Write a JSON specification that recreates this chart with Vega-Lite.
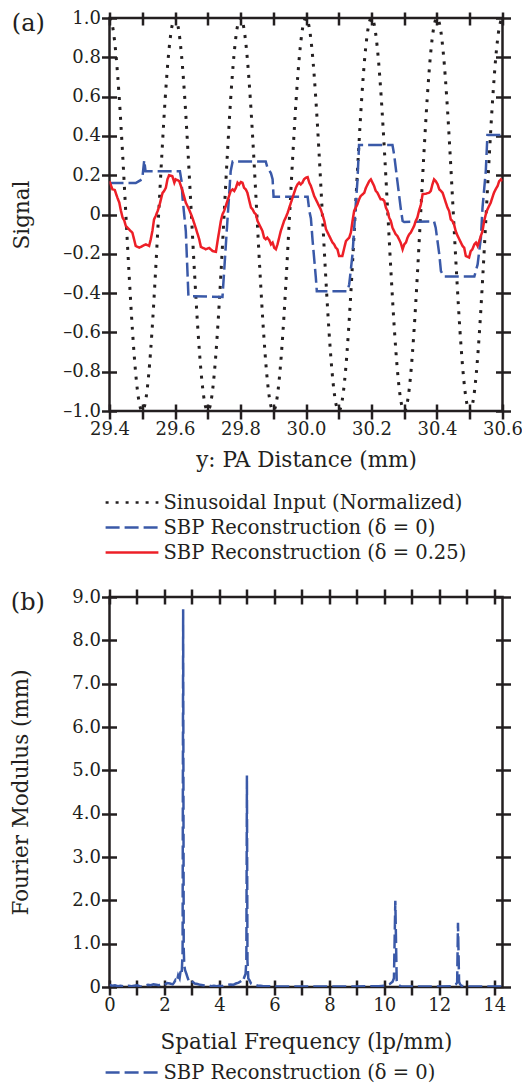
{
"$schema":"https://vega.github.io/schema/vega-lite/v6.json",
"padding":{"left":9.5,"top":7,"right":0,"bottom":0},
"spacing":22,
"config":{
 "font":"DejaVu Serif",
 "view":{"stroke":"#231f20","strokeWidth":2.5},
 "axis":{"labelFont":"DejaVu Serif","labelFontSize":18,"labelColor":"#231f20","titleFont":"DejaVu Serif","titleFontSize":21.5,"titleFontWeight":"normal","titleColor":"#231f20","tickColor":"#231f20","tickWidth":2.5,"domain":false,"grid":false,"labelFlush":false,"labelOverlap":false},
 "legend":{"labelFont":"DejaVu Serif","labelFontSize":19.5,"labelColor":"#231f20","labelLimit":500}
},
"datasets":{
"sinus":[
{"x":29.4,"v":1},{"x":29.41,"v":0.9511},{"x":29.42,"v":0.809},{"x":29.43,"v":0.5878},{"x":29.44,"v":0.309},{"x":29.45,"v":0},{"x":29.46,"v":-0.309},{"x":29.47,"v":-0.5878},{"x":29.48,"v":-0.809},{"x":29.49,"v":-0.9511},
{"x":29.5,"v":-1},{"x":29.51,"v":-0.9511},{"x":29.52,"v":-0.809},{"x":29.53,"v":-0.5878},{"x":29.54,"v":-0.309},{"x":29.55,"v":0},{"x":29.56,"v":0.309},{"x":29.57,"v":0.5878},{"x":29.58,"v":0.809},{"x":29.59,"v":0.9511},
{"x":29.6,"v":1},{"x":29.61,"v":0.9511},{"x":29.62,"v":0.809},{"x":29.63,"v":0.5878},{"x":29.64,"v":0.309},{"x":29.65,"v":0},{"x":29.66,"v":-0.309},{"x":29.67,"v":-0.5878},{"x":29.68,"v":-0.809},{"x":29.69,"v":-0.9511},
{"x":29.7,"v":-1},{"x":29.71,"v":-0.9511},{"x":29.72,"v":-0.809},{"x":29.73,"v":-0.5878},{"x":29.74,"v":-0.309},{"x":29.75,"v":0},{"x":29.76,"v":0.309},{"x":29.77,"v":0.5878},{"x":29.78,"v":0.809},{"x":29.79,"v":0.9511},
{"x":29.8,"v":1},{"x":29.81,"v":0.9511},{"x":29.82,"v":0.809},{"x":29.83,"v":0.5878},{"x":29.84,"v":0.309},{"x":29.85,"v":0},{"x":29.86,"v":-0.309},{"x":29.87,"v":-0.5878},{"x":29.88,"v":-0.809},{"x":29.89,"v":-0.9511},
{"x":29.9,"v":-1},{"x":29.91,"v":-0.9511},{"x":29.92,"v":-0.809},{"x":29.93,"v":-0.5878},{"x":29.94,"v":-0.309},{"x":29.95,"v":0},{"x":29.96,"v":0.309},{"x":29.97,"v":0.5878},{"x":29.98,"v":0.809},{"x":29.99,"v":0.9511},
{"x":30.0,"v":1},{"x":30.01,"v":0.9511},{"x":30.02,"v":0.809},{"x":30.03,"v":0.5878},{"x":30.04,"v":0.309},{"x":30.05,"v":0},{"x":30.06,"v":-0.309},{"x":30.07,"v":-0.5878},{"x":30.08,"v":-0.809},{"x":30.09,"v":-0.9511},
{"x":30.1,"v":-1},{"x":30.11,"v":-0.9511},{"x":30.12,"v":-0.809},{"x":30.13,"v":-0.5878},{"x":30.14,"v":-0.309},{"x":30.15,"v":0},{"x":30.16,"v":0.309},{"x":30.17,"v":0.5878},{"x":30.18,"v":0.809},{"x":30.19,"v":0.9511},
{"x":30.2,"v":1},{"x":30.21,"v":0.9511},{"x":30.22,"v":0.809},{"x":30.23,"v":0.5878},{"x":30.24,"v":0.309},{"x":30.25,"v":0},{"x":30.26,"v":-0.309},{"x":30.27,"v":-0.5878},{"x":30.28,"v":-0.809},{"x":30.29,"v":-0.9511},
{"x":30.3,"v":-1},{"x":30.31,"v":-0.9511},{"x":30.32,"v":-0.809},{"x":30.33,"v":-0.5878},{"x":30.34,"v":-0.309},{"x":30.35,"v":0},{"x":30.36,"v":0.309},{"x":30.37,"v":0.5878},{"x":30.38,"v":0.809},{"x":30.39,"v":0.9511},
{"x":30.4,"v":1},{"x":30.41,"v":0.9511},{"x":30.42,"v":0.809},{"x":30.43,"v":0.5878},{"x":30.44,"v":0.309},{"x":30.45,"v":0},{"x":30.46,"v":-0.309},{"x":30.47,"v":-0.5878},{"x":30.48,"v":-0.809},{"x":30.49,"v":-0.9511},
{"x":30.5,"v":-1},{"x":30.51,"v":-0.9511},{"x":30.52,"v":-0.809},{"x":30.53,"v":-0.5878},{"x":30.54,"v":-0.309},{"x":30.55,"v":0},{"x":30.56,"v":0.309},{"x":30.57,"v":0.5878},{"x":30.58,"v":0.809},{"x":30.59,"v":0.9511},
{"x":30.6,"v":1}
],
"recon":[
{"x":29.4,"v":0.16,"s":"d0"},{"x":29.48,"v":0.16,"s":"d0"},{"x":29.49,"v":0.17,"s":"d0"},{"x":29.5,"v":0.18,"s":"d0"},{"x":29.506,"v":0.276,"s":"d0"},{"x":29.51,"v":0.22,"s":"d0"},{"x":29.615,"v":0.22,"s":"d0"},{"x":29.62,"v":0.17,"s":"d0"},{"x":29.623,"v":0.085,"s":"d0"},{"x":29.633,"v":-0.084,"s":"d0"},{"x":29.638,"v":-0.29,"s":"d0"},{"x":29.641,"v":-0.415,"s":"d0"},{"x":29.745,"v":-0.42,"s":"d0"},{"x":29.75,"v":-0.29,"s":"d0"},{"x":29.76,"v":-0.033,"s":"d0"},{"x":29.77,"v":0.22,"s":"d0"},{"x":29.776,"v":0.27,"s":"d0"},{"x":29.877,"v":0.27,"s":"d0"},{"x":29.882,"v":0.24,"s":"d0"},{"x":29.893,"v":0.21,"s":"d0"},{"x":29.898,"v":0.18,"s":"d0"},{"x":29.901,"v":0.09,"s":"d0"},{"x":30.005,"v":0.09,"s":"d0"},{"x":30.01,"v":0.02,"s":"d0"},{"x":30.015,"v":-0.02,"s":"d0"},{"x":30.02,"v":-0.13,"s":"d0"},{"x":30.03,"v":-0.32,"s":"d0"},{"x":30.033,"v":-0.39,"s":"d0"},{"x":30.127,"v":-0.39,"s":"d0"},{"x":30.132,"v":-0.355,"s":"d0"},{"x":30.142,"v":-0.203,"s":"d0"},{"x":30.152,"v":0.053,"s":"d0"},{"x":30.157,"v":0.17,"s":"d0"},{"x":30.162,"v":0.354,"s":"d0"},{"x":30.264,"v":0.354,"s":"d0"},{"x":30.269,"v":0.306,"s":"d0"},{"x":30.279,"v":0.17,"s":"d0"},{"x":30.289,"v":0.035,"s":"d0"},{"x":30.295,"v":-0.033,"s":"d0"},{"x":30.3,"v":-0.038,"s":"d0"},{"x":30.391,"v":-0.035,"s":"d0"},{"x":30.396,"v":-0.067,"s":"d0"},{"x":30.407,"v":-0.203,"s":"d0"},{"x":30.412,"v":-0.288,"s":"d0"},{"x":30.422,"v":-0.316,"s":"d0"},{"x":30.514,"v":-0.316,"s":"d0"},{"x":30.524,"v":-0.254,"s":"d0"},{"x":30.534,"v":-0.118,"s":"d0"},{"x":30.539,"v":0.035,"s":"d0"},{"x":30.549,"v":0.221,"s":"d0"},{"x":30.554,"v":0.405,"s":"d0"},{"x":30.6,"v":0.405,"s":"d0"},
{"x":29.4,"v":0.17,"s":"d25"},{"x":29.404,"v":0.15,"s":"d25"},{"x":29.409,"v":0.128,"s":"d25"},{"x":29.416,"v":0.125,"s":"d25"},{"x":29.424,"v":0.086,"s":"d25"},{"x":29.43,"v":0.06,"s":"d25"},{"x":29.435,"v":0.018,"s":"d25"},{"x":29.44,"v":-0.016,"s":"d25"},{"x":29.445,"v":-0.03,"s":"d25"},{"x":29.45,"v":-0.059,"s":"d25"},{"x":29.46,"v":-0.076,"s":"d25"},{"x":29.47,"v":-0.093,"s":"d25"},{"x":29.475,"v":-0.126,"s":"d25"},{"x":29.48,"v":-0.16,"s":"d25"},{"x":29.491,"v":-0.169,"s":"d25"},{"x":29.501,"v":-0.16,"s":"d25"},{"x":29.511,"v":-0.152,"s":"d25"},{"x":29.521,"v":-0.16,"s":"d25"},{"x":29.526,"v":-0.126,"s":"d25"},{"x":29.531,"v":-0.084,"s":"d25"},{"x":29.536,"v":-0.025,"s":"d25"},{"x":29.541,"v":-0.008,"s":"d25"},{"x":29.547,"v":0.018,"s":"d25"},{"x":29.552,"v":0.043,"s":"d25"},{"x":29.557,"v":0.077,"s":"d25"},{"x":29.562,"v":0.11,"s":"d25"},{"x":29.567,"v":0.12,"s":"d25"},{"x":29.572,"v":0.136,"s":"d25"},{"x":29.577,"v":0.179,"s":"d25"},{"x":29.582,"v":0.2,"s":"d25"},{"x":29.592,"v":0.195,"s":"d25"},{"x":29.598,"v":0.162,"s":"d25"},{"x":29.602,"v":0.179,"s":"d25"},{"x":29.613,"v":0.17,"s":"d25"},{"x":29.618,"v":0.145,"s":"d25"},{"x":29.623,"v":0.12,"s":"d25"},{"x":29.633,"v":0.06,"s":"d25"},{"x":29.643,"v":0.026,"s":"d25"},{"x":29.653,"v":-0.016,"s":"d25"},{"x":29.663,"v":-0.067,"s":"d25"},{"x":29.674,"v":-0.126,"s":"d25"},{"x":29.679,"v":-0.165,"s":"d25"},{"x":29.694,"v":-0.177,"s":"d25"},{"x":29.704,"v":-0.17,"s":"d25"},{"x":29.715,"v":-0.186,"s":"d25"},{"x":29.725,"v":-0.19,"s":"d25"},{"x":29.73,"v":-0.135,"s":"d25"},{"x":29.735,"v":-0.084,"s":"d25"},{"x":29.74,"v":-0.033,"s":"d25"},{"x":29.745,"v":0.001,"s":"d25"},{"x":29.75,"v":0.018,"s":"d25"},{"x":29.755,"v":0.043,"s":"d25"},{"x":29.76,"v":0.069,"s":"d25"},{"x":29.765,"v":0.094,"s":"d25"},{"x":29.77,"v":0.12,"s":"d25"},{"x":29.776,"v":0.128,"s":"d25"},{"x":29.781,"v":0.12,"s":"d25"},{"x":29.786,"v":0.136,"s":"d25"},{"x":29.791,"v":0.162,"s":"d25"},{"x":29.796,"v":0.153,"s":"d25"},{"x":29.801,"v":0.165,"s":"d25"},{"x":29.806,"v":0.162,"s":"d25"},{"x":29.811,"v":0.136,"s":"d25"},{"x":29.816,"v":0.128,"s":"d25"},{"x":29.821,"v":0.111,"s":"d25"},{"x":29.827,"v":0.069,"s":"d25"},{"x":29.832,"v":0.035,"s":"d25"},{"x":29.837,"v":0.026,"s":"d25"},{"x":29.842,"v":0.009,"s":"d25"},{"x":29.847,"v":0.001,"s":"d25"},{"x":29.852,"v":-0.033,"s":"d25"},{"x":29.857,"v":-0.05,"s":"d25"},{"x":29.862,"v":-0.067,"s":"d25"},{"x":29.867,"v":-0.084,"s":"d25"},{"x":29.872,"v":-0.118,"s":"d25"},{"x":29.877,"v":-0.126,"s":"d25"},{"x":29.882,"v":-0.118,"s":"d25"},{"x":29.888,"v":-0.131,"s":"d25"},{"x":29.893,"v":-0.152,"s":"d25"},{"x":29.898,"v":-0.143,"s":"d25"},{"x":29.903,"v":-0.169,"s":"d25"},{"x":29.908,"v":-0.177,"s":"d25"},{"x":29.913,"v":-0.152,"s":"d25"},{"x":29.918,"v":-0.118,"s":"d25"},{"x":29.923,"v":-0.084,"s":"d25"},{"x":29.928,"v":-0.059,"s":"d25"},{"x":29.933,"v":-0.033,"s":"d25"},{"x":29.938,"v":-0.016,"s":"d25"},{"x":29.944,"v":0.009,"s":"d25"},{"x":29.949,"v":0.035,"s":"d25"},{"x":29.954,"v":0.06,"s":"d25"},{"x":29.959,"v":0.086,"s":"d25"},{"x":29.964,"v":0.111,"s":"d25"},{"x":29.969,"v":0.136,"s":"d25"},{"x":29.974,"v":0.153,"s":"d25"},{"x":29.979,"v":0.162,"s":"d25"},{"x":29.984,"v":0.153,"s":"d25"},{"x":29.989,"v":0.162,"s":"d25"},{"x":29.994,"v":0.179,"s":"d25"},{"x":29.999,"v":0.187,"s":"d25"},{"x":30.005,"v":0.19,"s":"d25"},{"x":30.01,"v":0.162,"s":"d25"},{"x":30.015,"v":0.145,"s":"d25"},{"x":30.02,"v":0.12,"s":"d25"},{"x":30.025,"v":0.094,"s":"d25"},{"x":30.03,"v":0.077,"s":"d25"},{"x":30.035,"v":0.06,"s":"d25"},{"x":30.04,"v":0.043,"s":"d25"},{"x":30.045,"v":0.026,"s":"d25"},{"x":30.05,"v":0.001,"s":"d25"},{"x":30.056,"v":-0.033,"s":"d25"},{"x":30.061,"v":-0.075,"s":"d25"},{"x":30.066,"v":-0.092,"s":"d25"},{"x":30.071,"v":-0.109,"s":"d25"},{"x":30.076,"v":-0.126,"s":"d25"},{"x":30.081,"v":-0.143,"s":"d25"},{"x":30.086,"v":-0.152,"s":"d25"},{"x":30.091,"v":-0.169,"s":"d25"},{"x":30.096,"v":-0.177,"s":"d25"},{"x":30.101,"v":-0.211,"s":"d25"},{"x":30.111,"v":-0.211,"s":"d25"},{"x":30.117,"v":-0.169,"s":"d25"},{"x":30.122,"v":-0.135,"s":"d25"},{"x":30.132,"v":-0.118,"s":"d25"},{"x":30.137,"v":-0.092,"s":"d25"},{"x":30.142,"v":-0.033,"s":"d25"},{"x":30.147,"v":0.018,"s":"d25"},{"x":30.152,"v":0.035,"s":"d25"},{"x":30.157,"v":0.052,"s":"d25"},{"x":30.162,"v":0.077,"s":"d25"},{"x":30.167,"v":0.094,"s":"d25"},{"x":30.173,"v":0.103,"s":"d25"},{"x":30.178,"v":0.111,"s":"d25"},{"x":30.183,"v":0.136,"s":"d25"},{"x":30.188,"v":0.153,"s":"d25"},{"x":30.193,"v":0.17,"s":"d25"},{"x":30.198,"v":0.179,"s":"d25"},{"x":30.203,"v":0.162,"s":"d25"},{"x":30.208,"v":0.145,"s":"d25"},{"x":30.213,"v":0.12,"s":"d25"},{"x":30.218,"v":0.111,"s":"d25"},{"x":30.223,"v":0.094,"s":"d25"},{"x":30.228,"v":0.077,"s":"d25"},{"x":30.234,"v":0.077,"s":"d25"},{"x":30.239,"v":0.069,"s":"d25"},{"x":30.244,"v":0.035,"s":"d25"},{"x":30.249,"v":0.018,"s":"d25"},{"x":30.254,"v":-0.016,"s":"d25"},{"x":30.259,"v":-0.033,"s":"d25"},{"x":30.264,"v":-0.067,"s":"d25"},{"x":30.269,"v":-0.084,"s":"d25"},{"x":30.274,"v":-0.101,"s":"d25"},{"x":30.279,"v":-0.109,"s":"d25"},{"x":30.284,"v":-0.126,"s":"d25"},{"x":30.289,"v":-0.143,"s":"d25"},{"x":30.295,"v":-0.177,"s":"d25"},{"x":30.3,"v":-0.152,"s":"d25"},{"x":30.305,"v":-0.143,"s":"d25"},{"x":30.31,"v":-0.118,"s":"d25"},{"x":30.315,"v":-0.101,"s":"d25"},{"x":30.32,"v":-0.092,"s":"d25"},{"x":30.325,"v":-0.075,"s":"d25"},{"x":30.33,"v":-0.059,"s":"d25"},{"x":30.335,"v":-0.033,"s":"d25"},{"x":30.34,"v":-0.016,"s":"d25"},{"x":30.345,"v":0.018,"s":"d25"},{"x":30.351,"v":0.052,"s":"d25"},{"x":30.356,"v":0.103,"s":"d25"},{"x":30.366,"v":0.106,"s":"d25"},{"x":30.376,"v":0.111,"s":"d25"},{"x":30.381,"v":0.12,"s":"d25"},{"x":30.386,"v":0.153,"s":"d25"},{"x":30.391,"v":0.179,"s":"d25"},{"x":30.396,"v":0.17,"s":"d25"},{"x":30.402,"v":0.153,"s":"d25"},{"x":30.407,"v":0.128,"s":"d25"},{"x":30.412,"v":0.12,"s":"d25"},{"x":30.417,"v":0.111,"s":"d25"},{"x":30.422,"v":0.086,"s":"d25"},{"x":30.427,"v":0.06,"s":"d25"},{"x":30.432,"v":0.035,"s":"d25"},{"x":30.437,"v":0.018,"s":"d25"},{"x":30.442,"v":-0.025,"s":"d25"},{"x":30.447,"v":-0.033,"s":"d25"},{"x":30.452,"v":-0.05,"s":"d25"},{"x":30.457,"v":-0.084,"s":"d25"},{"x":30.463,"v":-0.109,"s":"d25"},{"x":30.468,"v":-0.126,"s":"d25"},{"x":30.473,"v":-0.143,"s":"d25"},{"x":30.478,"v":-0.16,"s":"d25"},{"x":30.483,"v":-0.169,"s":"d25"},{"x":30.488,"v":-0.211,"s":"d25"},{"x":30.498,"v":-0.219,"s":"d25"},{"x":30.503,"v":-0.186,"s":"d25"},{"x":30.508,"v":-0.177,"s":"d25"},{"x":30.514,"v":-0.152,"s":"d25"},{"x":30.519,"v":-0.143,"s":"d25"},{"x":30.524,"v":-0.16,"s":"d25"},{"x":30.529,"v":-0.135,"s":"d25"},{"x":30.534,"v":-0.109,"s":"d25"},{"x":30.539,"v":-0.084,"s":"d25"},{"x":30.544,"v":-0.033,"s":"d25"},{"x":30.549,"v":0.001,"s":"d25"},{"x":30.554,"v":0.026,"s":"d25"},{"x":30.559,"v":0.043,"s":"d25"},{"x":30.564,"v":0.06,"s":"d25"},{"x":30.569,"v":0.086,"s":"d25"},{"x":30.574,"v":0.111,"s":"d25"},{"x":30.579,"v":0.128,"s":"d25"},{"x":30.585,"v":0.145,"s":"d25"},{"x":30.59,"v":0.17,"s":"d25"},{"x":30.595,"v":0.179,"s":"d25"},{"x":30.6,"v":0.17,"s":"d25"}
],
"fft":[
{"f":0,"m":0.05},{"f":0.1,"m":0.03},{"f":0.2,"m":0.04},{"f":0.3,"m":0.02},{"f":0.4,"m":0.03},{"f":0.5,"m":0.02},{"f":0.6,"m":0.01},{"f":0.7,"m":0.03},{"f":0.8,"m":0.02},{"f":0.9,"m":0.03},{"f":1.0,"m":0.04},{"f":1.1,"m":0.02},{"f":1.2,"m":0.01},{"f":1.3,"m":0.03},{"f":1.4,"m":0.05},{"f":1.5,"m":0.04},{"f":1.6,"m":0.06},{"f":1.7,"m":0.05},{"f":1.8,"m":0.04},{"f":1.9,"m":0.07},{"f":2.0,"m":0.05},{"f":2.1,"m":0.09},{"f":2.2,"m":0.08},{"f":2.3,"m":0.06},{"f":2.35,"m":0.1},{"f":2.4,"m":0.16},{"f":2.45,"m":0.12},{"f":2.5,"m":0.27},{"f":2.55,"m":0.2},{"f":2.6,"m":0.43},{"f":2.63,"m":0.35},{"f":2.66,"m":0.8},{"f":2.68,"m":8.72},{"f":2.7,"m":0.9},{"f":2.72,"m":0.5},{"f":2.75,"m":0.39},{"f":2.8,"m":0.3},{"f":2.85,"m":0.2},{"f":2.9,"m":0.12},{"f":2.95,"m":0.15},{"f":3.0,"m":0.13},{"f":3.1,"m":0.08},{"f":3.2,"m":0.07},{"f":3.3,"m":0.05},{"f":3.4,"m":0.04},{"f":3.5,"m":0.03},{"f":3.6,"m":0.04},{"f":3.7,"m":0.02},{"f":3.8,"m":0.03},{"f":3.9,"m":0.02},{"f":4.0,"m":0.03},{"f":4.1,"m":0.02},{"f":4.2,"m":0.04},{"f":4.3,"m":0.05},{"f":4.4,"m":0.06},{"f":4.5,"m":0.05},{"f":4.6,"m":0.08},{"f":4.7,"m":0.1},{"f":4.8,"m":0.14},{"f":4.85,"m":0.12},{"f":4.9,"m":0.22},{"f":4.95,"m":0.3},{"f":4.98,"m":0.6},{"f":5.0,"m":4.88},{"f":5.02,"m":0.6},{"f":5.05,"m":0.2},{"f":5.1,"m":0.15},{"f":5.15,"m":0.08},{"f":5.2,"m":0.06},{"f":5.3,"m":0.05},{"f":5.4,"m":0.03},{"f":5.5,"m":0.03},{"f":5.6,"m":0.02},{"f":5.8,"m":0.02},{"f":6.0,"m":0.01},{"f":6.2,"m":0.01},{"f":6.5,"m":0.01},{"f":7.0,"m":0.01},{"f":7.5,"m":0.01},{"f":8.0,"m":0.01},{"f":8.5,"m":0.01},{"f":9.0,"m":0.01},{"f":9.5,"m":0.02},{"f":9.8,"m":0.02},{"f":10.0,"m":0.03},{"f":10.1,"m":0.05},{"f":10.2,"m":0.07},{"f":10.3,"m":0.12},{"f":10.35,"m":0.2},{"f":10.4,"m":1.99},{"f":10.45,"m":0.15},{"f":10.5,"m":0.05},{"f":10.6,"m":0.02},{"f":11.0,"m":0.01},{"f":11.5,"m":0.01},{"f":12.0,"m":0.01},{"f":12.5,"m":0.02},{"f":12.6,"m":0.06},{"f":12.65,"m":0.1},{"f":12.68,"m":1.48},{"f":12.72,"m":0.12},{"f":12.75,"m":0.07},{"f":12.8,"m":0.03},{"f":13.0,"m":0.01},{"f":13.5,"m":0.01},{"f":14.0,"m":0.01},{"f":14.3,"m":0.01}
]
},
"vconcat":[
{
 "width":393,"height":393,
 "title":{"text":"(a)","anchor":"start","frame":"bounds","orient":"top","offset":0,"dy":27,"font":"DejaVu Serif","fontSize":24,"fontWeight":"normal","color":"#231f20"},
 "layer":[
  {"data":{"name":"sinus"},
   "transform":[{"calculate":"'sin'","as":"s"}],
   "mark":{"type":"line","interpolate":"monotone","strokeWidth":3,"clip":true},
   "encoding":{
    "x":{"field":"x","type":"quantitative","scale":{"domain":[29.4,30.6],"nice":false,"zero":false},
         "axis":{"orient":"bottom","title":"y: PA Distance (mm)","values":[29.4,29.5,29.6,29.7,29.8,29.9,30.0,30.1,30.2,30.3,30.4,30.5,30.6],"labelExpr":"round(datum.value*10) % 2 == 0 ? format(datum.value, '.1f') : ''","offset":-7,"tickSize":15,"labelPadding":1,"titlePadding":11}},
    "y":{"field":"v","type":"quantitative","scale":{"domain":[-1,1],"nice":false,"zero":false},
         "axis":{"orient":"left","title":"Signal","values":[-1,-0.8,-0.6,-0.4,-0.2,0,0.2,0.4,0.6,0.8,1],"labelExpr":"datum.value == 0 ? '0' : (datum.value < 0 ? '–' : '') + format(abs(datum.value), '.1f')","offset":-7,"tickSize":15,"labelPadding":1,"titlePadding":29}},
    "color":{"field":"s","type":"nominal","scale":{"domain":["sin","d0","d25"],"range":["#231f20","#3a59a8","#ed1f27"]},
      "legend":{"title":null,"orient":"none","legendX":9,"legendY":471,"symbolType":"M-2.2,0H2.2","symbolSize":576,"symbolStrokeWidth":2.5,"labelOffset":18,"rowPadding":2,"padding":0,"labelExpr":"datum.label == 'sin' ? 'Sinusoidal Input (Normalized)' : datum.label == 'd0' ? 'SBP Reconstruction (δ = 0)' : 'SBP Reconstruction (δ = 0.25)'"}},
    "strokeDash":{"field":"s","type":"nominal","scale":{"domain":["sin","d0","d25"],"range":[[3,7],[14,5],[1,0]]},
      "legend":{"title":null,"orient":"none","legendX":9,"legendY":471,"symbolType":"M-2.2,0H2.2","symbolSize":576,"symbolStrokeWidth":2.5,"labelOffset":18,"rowPadding":2,"padding":0,"labelExpr":"datum.label == 'sin' ? 'Sinusoidal Input (Normalized)' : datum.label == 'd0' ? 'SBP Reconstruction (δ = 0)' : 'SBP Reconstruction (δ = 0.25)'"}}
   }},
  {"data":{"name":"recon"},
   "mark":{"type":"line","strokeWidth":2.5,"clip":true},
   "encoding":{
    "x":{"field":"x","type":"quantitative","axis":null},
    "y":{"field":"v","type":"quantitative","axis":null},
    "color":{"field":"s","type":"nominal",
      "legend":{"title":null,"orient":"none","legendX":9,"legendY":471,"symbolType":"M-2.2,0H2.2","symbolSize":576,"symbolStrokeWidth":2.5,"labelOffset":18,"rowPadding":2,"padding":0,"labelExpr":"datum.label == 'sin' ? 'Sinusoidal Input (Normalized)' : datum.label == 'd0' ? 'SBP Reconstruction (δ = 0)' : 'SBP Reconstruction (δ = 0.25)'"}},
    "strokeDash":{"field":"s","type":"nominal",
      "legend":{"title":null,"orient":"none","legendX":9,"legendY":471,"symbolType":"M-2.2,0H2.2","symbolSize":576,"symbolStrokeWidth":2.5,"labelOffset":18,"rowPadding":2,"padding":0,"labelExpr":"datum.label == 'sin' ? 'Sinusoidal Input (Normalized)' : datum.label == 'd0' ? 'SBP Reconstruction (δ = 0)' : 'SBP Reconstruction (δ = 0.25)'"}}
   }},
  {"data":{"name":"sinus"},
   "mark":{"type":"point","opacity":0},
   "encoding":{
    "x":{"field":"x","type":"quantitative","axis":{"orient":"top","title":null,"labels":false,"values":[29.4,29.5,29.6,29.7,29.8,29.9,30.0,30.1,30.2,30.3,30.4,30.5,30.6],"offset":-7,"tickSize":13}},
    "y":{"field":"v","type":"quantitative","axis":{"orient":"right","title":null,"labels":false,"values":[-1,-0.8,-0.6,-0.4,-0.2,0,0.2,0.4,0.6,0.8,1],"offset":-7,"tickSize":15}}
   }}
 ],
 "resolve":{"axis":{"x":"independent","y":"independent"}}
},
{
 "width":393,"height":390,
 "title":{"text":"(b)","anchor":"start","frame":"bounds","orient":"top","offset":0,"dy":27,"font":"DejaVu Serif","fontSize":24,"fontWeight":"normal","color":"#231f20"},
 "layer":[
  {"data":{"name":"fft"},
   "transform":[{"calculate":"'d0'","as":"s"}],
   "mark":{"type":"line","strokeWidth":2.5,"clip":true},
   "encoding":{
    "x":{"field":"f","type":"quantitative","scale":{"domain":[0,14.3],"nice":false,"zero":false},
         "axis":{"orient":"bottom","title":"Spatial Frequency (lp/mm)","values":[0,1,2,3,4,5,6,7,8,9,10,11,12,13,14],"labelExpr":"datum.value % 2 == 0 ? format(datum.value, 'd') : ''","offset":-7,"tickSize":15,"labelPadding":1,"titlePadding":17}},
    "y":{"field":"m","type":"quantitative","scale":{"domain":[0,9],"nice":false,"zero":false},
         "axis":{"orient":"left","title":"Fourier Modulus (mm)","values":[0,1,2,3,4,5,6,7,8,9],"labelExpr":"datum.value == 0 ? '0' : format(datum.value, '.1f')","offset":-7,"tickSize":15,"labelPadding":1,"titlePadding":39}},
    "color":{"field":"s","type":"nominal","scale":{"domain":["d0"],"range":["#3a59a8"]},
      "legend":{"title":null,"orient":"none","legendX":9,"legendY":462,"symbolType":"M-2.2,0H2.2","symbolSize":576,"symbolStrokeWidth":2.5,"labelOffset":18,"padding":0,"labelExpr":"'SBP Reconstruction (δ = 0)'"}},
    "strokeDash":{"field":"s","type":"nominal","scale":{"domain":["d0"],"range":[[14,5]]},
      "legend":{"title":null,"orient":"none","legendX":9,"legendY":462,"symbolType":"M-2.2,0H2.2","symbolSize":576,"symbolStrokeWidth":2.5,"labelOffset":18,"padding":0,"labelExpr":"'SBP Reconstruction (δ = 0)'"}}
   }},
  {"data":{"name":"fft"},
   "mark":{"type":"point","opacity":0},
   "encoding":{
    "x":{"field":"f","type":"quantitative","axis":{"orient":"top","title":null,"labels":false,"values":[0,1,2,3,4,5,6,7,8,9,10,11,12,13,14],"offset":-7,"tickSize":15}},
    "y":{"field":"m","type":"quantitative","axis":{"orient":"right","title":null,"labels":false,"values":[0,1,2,3,4,5,6,7,8,9],"offset":-7,"tickSize":15}}
   }}
 ],
 "resolve":{"axis":{"x":"independent","y":"independent"}}
}
],
"resolve":{"scale":{"color":"independent","strokeDash":"independent"},"legend":{"color":"independent","strokeDash":"independent"}}
}
